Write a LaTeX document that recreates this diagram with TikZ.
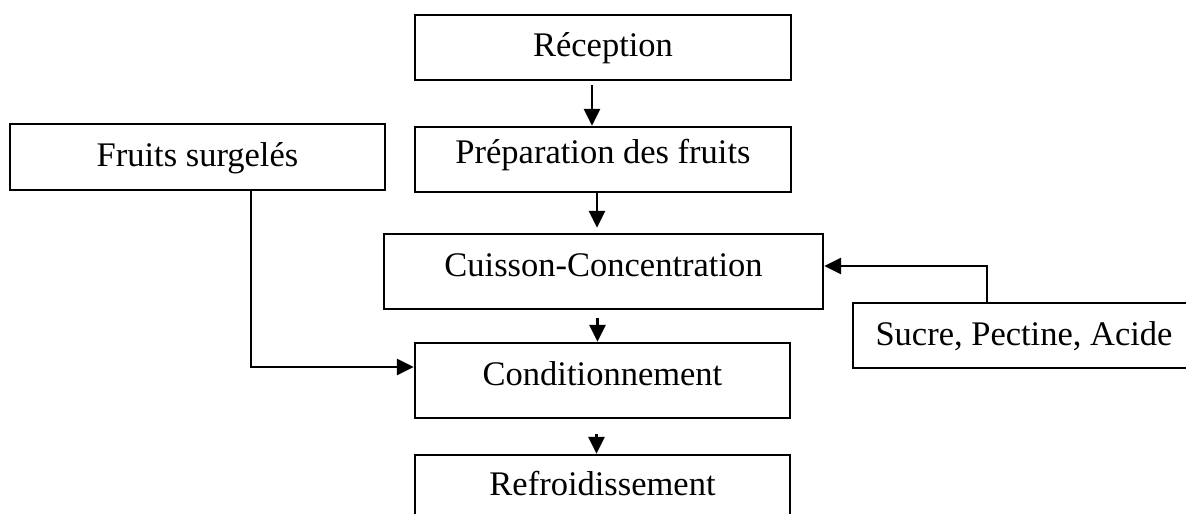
\documentclass[tikz,border=0pt]{standalone}
\usepackage{fontspec}
\setmainfont{Liberation Serif}
\usetikzlibrary{arrows.meta}
\begin{document}
\begin{tikzpicture}[x=1pt,y=-1pt,
  box/.style={draw, line width=2.3pt, inner sep=0pt, minimum width=#1,
    font=\fontsize{34.5}{40}\selectfont, text height=24pt},
  flow/.style={line width=2.5pt, -{Triangle[length=17pt,width=16pt]}}]
  \clip (0,0) rectangle (1186,514);
  \fill[white] (0,0) rectangle (1186,514);

  % main column
  \node[box=376pt, minimum height=65pt, text depth=7pt]  (rec)  at (603,47.5)  {Réception};
  \node[box=376pt, minimum height=65pt, text depth=17pt] (prep) at (603,159.5) {Préparation des fruits};
  \node[box=439pt, minimum height=75pt, text depth=15pt] (cuis) at (603.5,271.5) {Cuisson-Concentration};
  \node[box=375pt, minimum height=75pt, text depth=15pt] (cond) at (602.5,380.5) {Conditionnement};
  \node[box=375pt, minimum height=75pt, text depth=19pt] (refr) at (602.5,492.5) {Refroidissement};

  % side inputs
  \node[box=375pt, minimum height=66pt, text depth=6pt]  (frui) at (197.5,157) {Fruits surgelés};
  \node[box=342pt, minimum height=65pt, text depth=5pt]  (sucr) at (1024,335.5) {Sucre, Pectine, Acide};

  % arrows between steps
  \draw[flow] ([xshift=-11pt,yshift=-4pt]rec.south) -- ([xshift=-11pt]rec.south |- prep.north);
  \draw[flow] ([xshift=-6pt]prep.south) -- ([xshift=-6pt,yshift=5pt]prep.south |- cuis.north);
  \draw[flow] ([xshift=-6pt,yshift=-8pt]cuis.south) -- ([xshift=-6pt]cuis.south |- cond.north);
  \draw[flow] ([xshift=-6pt,yshift=-15pt]cond.south) -- ([xshift=-6pt]cond.south |- refr.north);

  % side connectors
  \draw[flow] ([xshift=53.5pt]frui.south) |- ([yshift=13.5pt]cond.west);
  \draw[flow] ([xshift=-37pt]sucr.north) |- ([yshift=5.5pt]cuis.east);
\end{tikzpicture}
\end{document}
